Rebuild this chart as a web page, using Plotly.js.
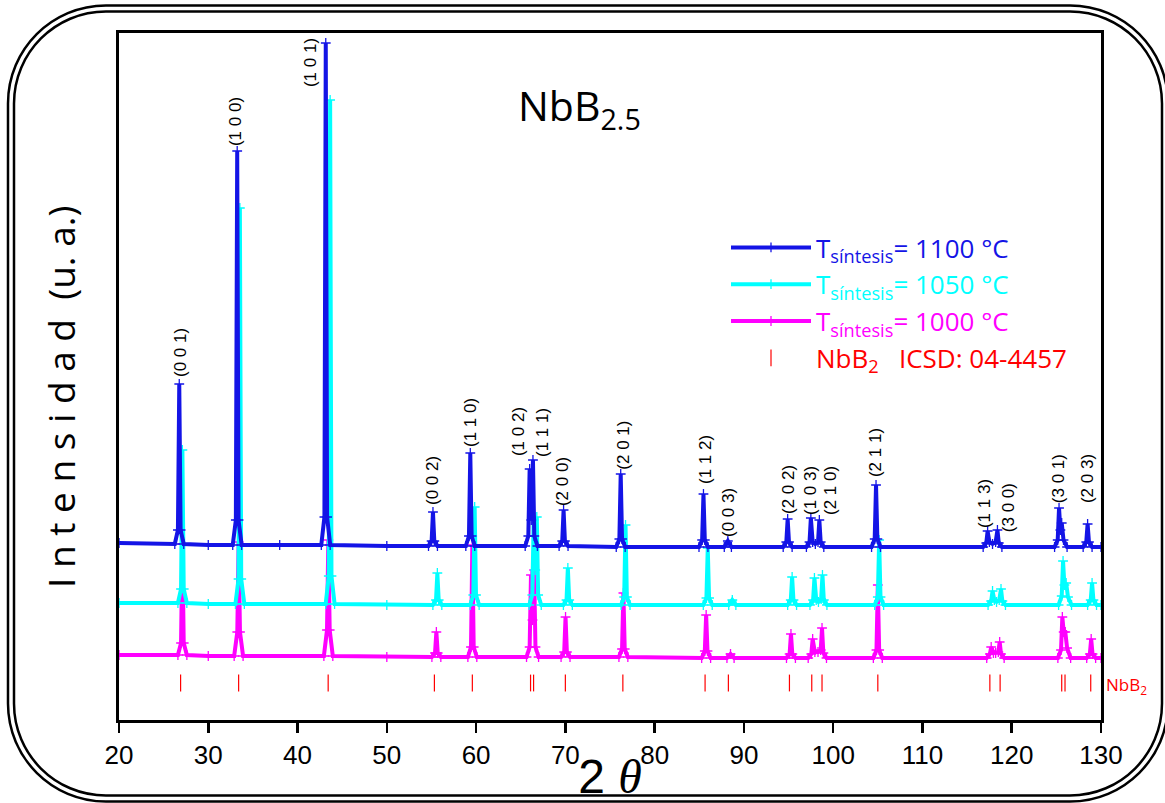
<!DOCTYPE html>
<html>
<head>
<meta charset="utf-8">
<script src="https://cdn.plot.ly/plotly-3.0.1.min.js"></script>
<style>html,body{margin:0;padding:0;background:#fff;}#chart{width:1165px;height:803px;}</style>
</head>
<body>
<div id="chart"></div>
<script>
// ---------- data (2θ in degrees, intensity in arbitrary units incl. vertical offset) ----------
const blueX = [20, 26.25, 26.6, 26.75, 26.9, 27.25, 30, 32.74, 33.09, 33.24, 33.39, 33.74, 38, 42.66, 43.01, 43.16, 43.31, 43.66, 50,
  54.67, 55.02, 55.17, 55.32, 55.67, 58.85, 59.2, 59.35, 59.5, 59.85,
  65.5, 65.85, 66.0, 66.18, 66.37, 66.52, 66.87, 69.3, 69.65, 69.8, 69.95, 70.3,
  75.7, 76.05, 76.2, 76.35, 76.7, 84.97, 85.32, 85.47, 85.62, 85.97, 87.8, 88.2, 88.6,
  94.4, 94.75, 94.9, 95.05, 95.4, 97.0, 97.35, 97.5, 97.7, 98.0, 98.3, 98.45, 98.6, 98.95,
  104.3, 104.65, 104.8, 104.95, 105.3, 116.8, 117.15, 117.3, 117.5, 117.85, 118.2, 118.4, 118.55, 118.9,
  124.8, 125.15, 125.3, 125.45, 125.6, 125.8, 126.2, 128.0, 128.35, 128.5, 128.65, 129.0, 130];
const blueY = [177, 176, 190, 336, 190, 176, 175, 175, 200, 569, 200, 175, 175, 175, 203, 677, 203, 175, 174,
  174, 179, 208, 179, 174, 174, 184, 267, 184, 174,
  174, 184, 251, 200, 260, 184, 174, 174, 179, 210, 179, 174,
  173, 181, 246, 181, 173, 173, 180, 226, 180, 173, 173, 179, 173,
  173, 178, 201, 178, 173, 173, 178, 202, 178, 176, 178, 200, 178, 173,
  173, 181, 235, 181, 173, 173, 177, 189, 178, 176, 178, 190, 177, 173,
  173, 180, 212, 190, 197, 180, 173, 173, 178, 196, 178, 173, 173];

const cyanX = [20, 26.6, 26.95, 27.1, 27.25, 27.6, 30, 33.04, 33.39, 33.54, 33.69, 34.04, 43.15, 43.5, 43.65, 43.8, 44.15, 50,
  55.16, 55.51, 55.66, 55.81, 56.16, 59.34, 59.69, 59.84, 59.99, 60.34,
  65.95, 66.3, 66.45, 66.62, 66.8, 66.95, 67.3, 69.78, 70.13, 70.28, 70.43, 70.78,
  76.24, 76.59, 76.74, 76.89, 77.24, 85.45, 85.8, 85.95, 86.1, 86.45, 88.3, 88.7, 89.1,
  94.9, 95.25, 95.4, 95.55, 95.9, 97.4, 97.75, 97.9, 98.1, 98.35, 98.65, 98.8, 98.95, 99.3,
  104.65, 105.0, 105.15, 105.3, 105.65, 117.35, 117.7, 117.85, 118.05, 118.3, 118.6, 118.8, 118.95, 119.3,
  125.25, 125.6, 125.75, 125.9, 126.1, 126.3, 126.7, 128.5, 128.85, 129.0, 129.15, 129.5, 130];
const cyanY = [117, 117, 131, 270, 131, 117, 116, 116, 141, 512, 141, 116, 116, 144, 620, 144, 116, 115,
  115, 120, 147, 120, 115, 115, 125, 213, 125, 115,
  115, 125, 200, 150, 203, 125, 115, 115, 120, 152, 120, 115,
  115, 123, 195, 123, 115, 115, 122, 172, 122, 115, 115, 120, 115,
  115, 120, 143, 120, 115, 115, 120, 142, 120, 118, 121, 145, 120, 115,
  115, 123, 180, 123, 115, 115, 119, 129, 120, 118, 120, 131, 119, 115,
  115, 124, 159, 135, 137, 123, 115, 115, 120, 137, 120, 115, 115];

const magentaX = [20, 26.6, 26.95, 27.1, 27.25, 27.6, 30, 32.9, 33.25, 33.4, 33.55, 33.9, 42.95, 43.3, 43.45, 43.6, 43.95, 50,
  55.05, 55.4, 55.55, 55.7, 56.05, 59.08, 59.43, 59.58, 59.73, 60.08,
  65.65, 66.0, 66.15, 66.32, 66.5, 66.65, 67.0, 69.52, 69.87, 70.02, 70.17, 70.52,
  76.0, 76.35, 76.5, 76.65, 77.0, 85.27, 85.62, 85.77, 85.92, 86.27, 88.1, 88.5, 88.9,
  94.77, 95.12, 95.27, 95.42, 95.77, 97.2, 97.55, 97.7, 97.95, 98.3, 98.6, 98.75, 98.9, 99.25,
  104.5, 104.85, 105.0, 105.15, 105.5, 117.2, 117.55, 117.7, 117.95, 118.2, 118.5, 118.65, 118.8, 119.15,
  125.17, 125.52, 125.67, 125.82, 126.0, 126.2, 126.6, 128.4, 128.75, 128.9, 129.05, 129.4, 130];
const magentaY = [65, 65, 77, 176, 77, 65, 64, 64, 88, 178, 88, 64, 64, 90, 180, 90, 64, 63,
  63, 67, 88, 67, 63, 63, 73, 175, 73, 63,
  63, 73, 145, 100, 150, 73, 63, 63, 68, 103, 68, 63,
  63, 71, 127, 71, 63, 62, 69, 105, 69, 62, 62, 66, 62,
  62, 66, 86, 66, 62, 62, 66, 81, 68, 68, 70, 92, 67, 62,
  62, 70, 135, 70, 62, 62, 66, 73, 67, 67, 68, 78, 66, 62,
  62, 70, 103, 88, 88, 72, 62, 62, 66, 81, 66, 62, 62];

// NbB2 reference reflections (ICSD 04-4457)
const refTwoTheta = [26.9, 33.4, 43.43, 55.33, 59.58, 66.1, 66.44, 70.0, 76.44, 85.65, 88.26,
  95.1, 97.6, 98.75, 105.0, 117.55, 118.7, 125.6, 125.97, 128.85];

// Miller index labels, their 2θ anchor and label height
const hklLabels = ['(0 0 1)', '(1 0 0)', '(1 0 1)', '(0 0 2)', '(1 1 0)', '(1 0 2)', '(1 1 1)', '(2 0 0)', '(2 0 1)',
  '(1 1 2)', '(0 0 3)', '(2 0 2)', '(1 0 3)', '(2 1 0)', '(2 1 1)', '(1 1 3)', '(3 0 0)', '(3 0 1)', '(2 0 3)'];
const hklX = [26.83, 33.0, 41.4, 55.06, 59.32, 64.7, 67.38, 69.63, 76.42, 85.64, 88.22, 94.94, 97.4, 99.64,
  104.69, 116.9, 119.6, 125.2, 128.44];
const hklY = [368, 598, 657, 240, 297, 288, 288, 238, 275, 261, 207, 230, 230, 230, 267, 216, 212, 241, 241];

const seriesNames = ['T<sub>síntesis</sub>= 1100 °C', 'T<sub>síntesis</sub>= 1050 °C', 'T<sub>síntesis</sub>= 1000 °C'];
const refName = 'NbB<sub>2</sub>\u00a0\u00a0\u00a0ICSD: 04-4457';

// ---------- layout helpers ----------
const ML = 119, MR = 64, MT = 33, MB = 83, W = 1165, H = 803;
const PW = W - ML - MR, PH = H - MT - MB;
function px(x) { return (x - ML) / PW; }
function py(y) { return (H - MB - y) / PH; }
function roundRect(x0, y0, x1, y1, r) {
  const k = 0.5523 * r;
  const P = (x, y) => px(x) + ',' + py(y);
  return 'M' + P(x0 + r, y0) + ' L' + P(x1 - r, y0) +
    ' C' + P(x1 - r + k, y0) + ' ' + P(x1, y0 + r - k) + ' ' + P(x1, y0 + r) +
    ' L' + P(x1, y1 - r) +
    ' C' + P(x1, y1 - r + k) + ' ' + P(x1 - r + k, y1) + ' ' + P(x1 - r, y1) +
    ' L' + P(x0 + r, y1) +
    ' C' + P(x0 + r - k, y1) + ' ' + P(x0, y1 - r + k) + ' ' + P(x0, y1 - r) +
    ' L' + P(x0, y0 + r) +
    ' C' + P(x0, y0 + r - k) + ' ' + P(x0 + r - k, y0) + ' ' + P(x0 + r, y0) + ' Z';
}

const BLUE = '#1414e6', CYAN = '#00ffff', MAGENTA = '#ff00ff', RED = '#ff0000';
function series(x, y, color, name, rank) {
  return {
    type: 'scatter', mode: 'lines+markers', x: x, y: y, name: '<span style="color:' + color + '">' + name + '</span>',
    legendrank: rank, cliponaxis: true,
    line: { color: color, width: 4 },
    marker: { symbol: 'cross-thin', size: 7, line: { color: color, width: 1.3 }, color: color },
    hoverinfo: 'x+y'
  };
}

const traces = [
  series(magentaX, magentaY, MAGENTA, seriesNames[2], 3),
  series(cyanX, cyanY, CYAN, seriesNames[1], 2),
  series(blueX, blueY, BLUE, seriesNames[0], 1),
  {
    type: 'scatter', mode: 'markers', x: refTwoTheta, y: refTwoTheta.map(() => 37),
    name: '<span style="color:' + RED + '">' + refName + '</span>', legendrank: 4,
    marker: { symbol: 'line-ns', size: 12, line: { color: RED, width: 1.2 }, color: RED }
  }
];

const annotations = hklLabels.map((t, i) => ({
  x: hklX[i], y: hklY[i], xref: 'x', yref: 'y', text: t, showarrow: false, textangle: -90,
  xanchor: 'center', yanchor: 'middle', font: { family: 'Liberation Sans, Arial, sans-serif', size: 17, color: '#000' }
}));
annotations.push({
  xref: 'paper', yref: 'paper', x: px(516), y: py(75), xanchor: 'left', yanchor: 'top', showarrow: false,
  text: 'NbB<sub>2.5</sub>', font: { family: 'Open Sans, sans-serif', size: 41, color: '#000' }
});
annotations.push({
  xref: 'paper', yref: 'y', x: px(1104), y: 35, xanchor: 'left', yanchor: 'middle', showarrow: false,
  text: 'NbB<sub>2</sub>', font: { family: 'Open Sans, sans-serif', size: 17, color: RED }
});
annotations.push({
  xref: 'paper', yref: 'paper', x: px(60), y: py(397), xanchor: 'center', yanchor: 'middle', showarrow: false,
  textangle: -90, text: 'I n t e n s i d a d  (u. a.)',
  font: { family: 'Open Sans, sans-serif', size: 37, color: '#000' }
});

const layout = {
  width: W, height: H,
  margin: { l: ML, r: MR, t: MT, b: MB },
  paper_bgcolor: '#fff', plot_bgcolor: '#fff',
  showlegend: true,
  legend: {
    x: px(726), y: py(224), xanchor: 'left', yanchor: 'top', bgcolor: 'rgba(0,0,0,0)',
    font: { family: 'Open Sans, sans-serif', size: 26, color: '#000' }, itemwidth: 80, tracegroupgap: 0
  },
  xaxis: {
    range: [20, 130], tickmode: 'array', tickvals: [20, 30, 40, 50, 60, 70, 80, 90, 100, 110, 120, 130],
    ticks: 'outside', ticklen: 10, tickwidth: 2.5, tickcolor: '#000',
    showline: true, linecolor: '#000', linewidth: 3, mirror: true, showgrid: false, zeroline: false,
    tickfont: { family: 'Liberation Sans, Arial, sans-serif', size: 26, color: '#000' },
    title: { text: '2 <span style="font-family:Liberation Serif, serif"><i>θ</i></span>', standoff: 3,
      font: { family: 'Liberation Sans, Arial, sans-serif', size: 48, color: '#000' } }
  },
  yaxis: {
    range: [0, PH], showticklabels: false, ticks: '', showline: true, linecolor: '#000', linewidth: 3, mirror: true,
    showgrid: false, zeroline: false
  },
  annotations: annotations,
  shapes: [
    { type: 'path', xref: 'paper', yref: 'paper', path: roundRect(8, 5.5, 1168, 801.5, 98), line: { color: '#000', width: 2.5 }, layer: 'above' },
    { type: 'path', xref: 'paper', yref: 'paper', path: roundRect(14, 11.5, 1162, 795.5, 92), line: { color: '#000', width: 2.5 }, layer: 'above' }
  ]
};

Plotly.newPlot('chart', traces, layout, { displayModeBar: false, staticPlot: true });
</script>
</body>
</html>
